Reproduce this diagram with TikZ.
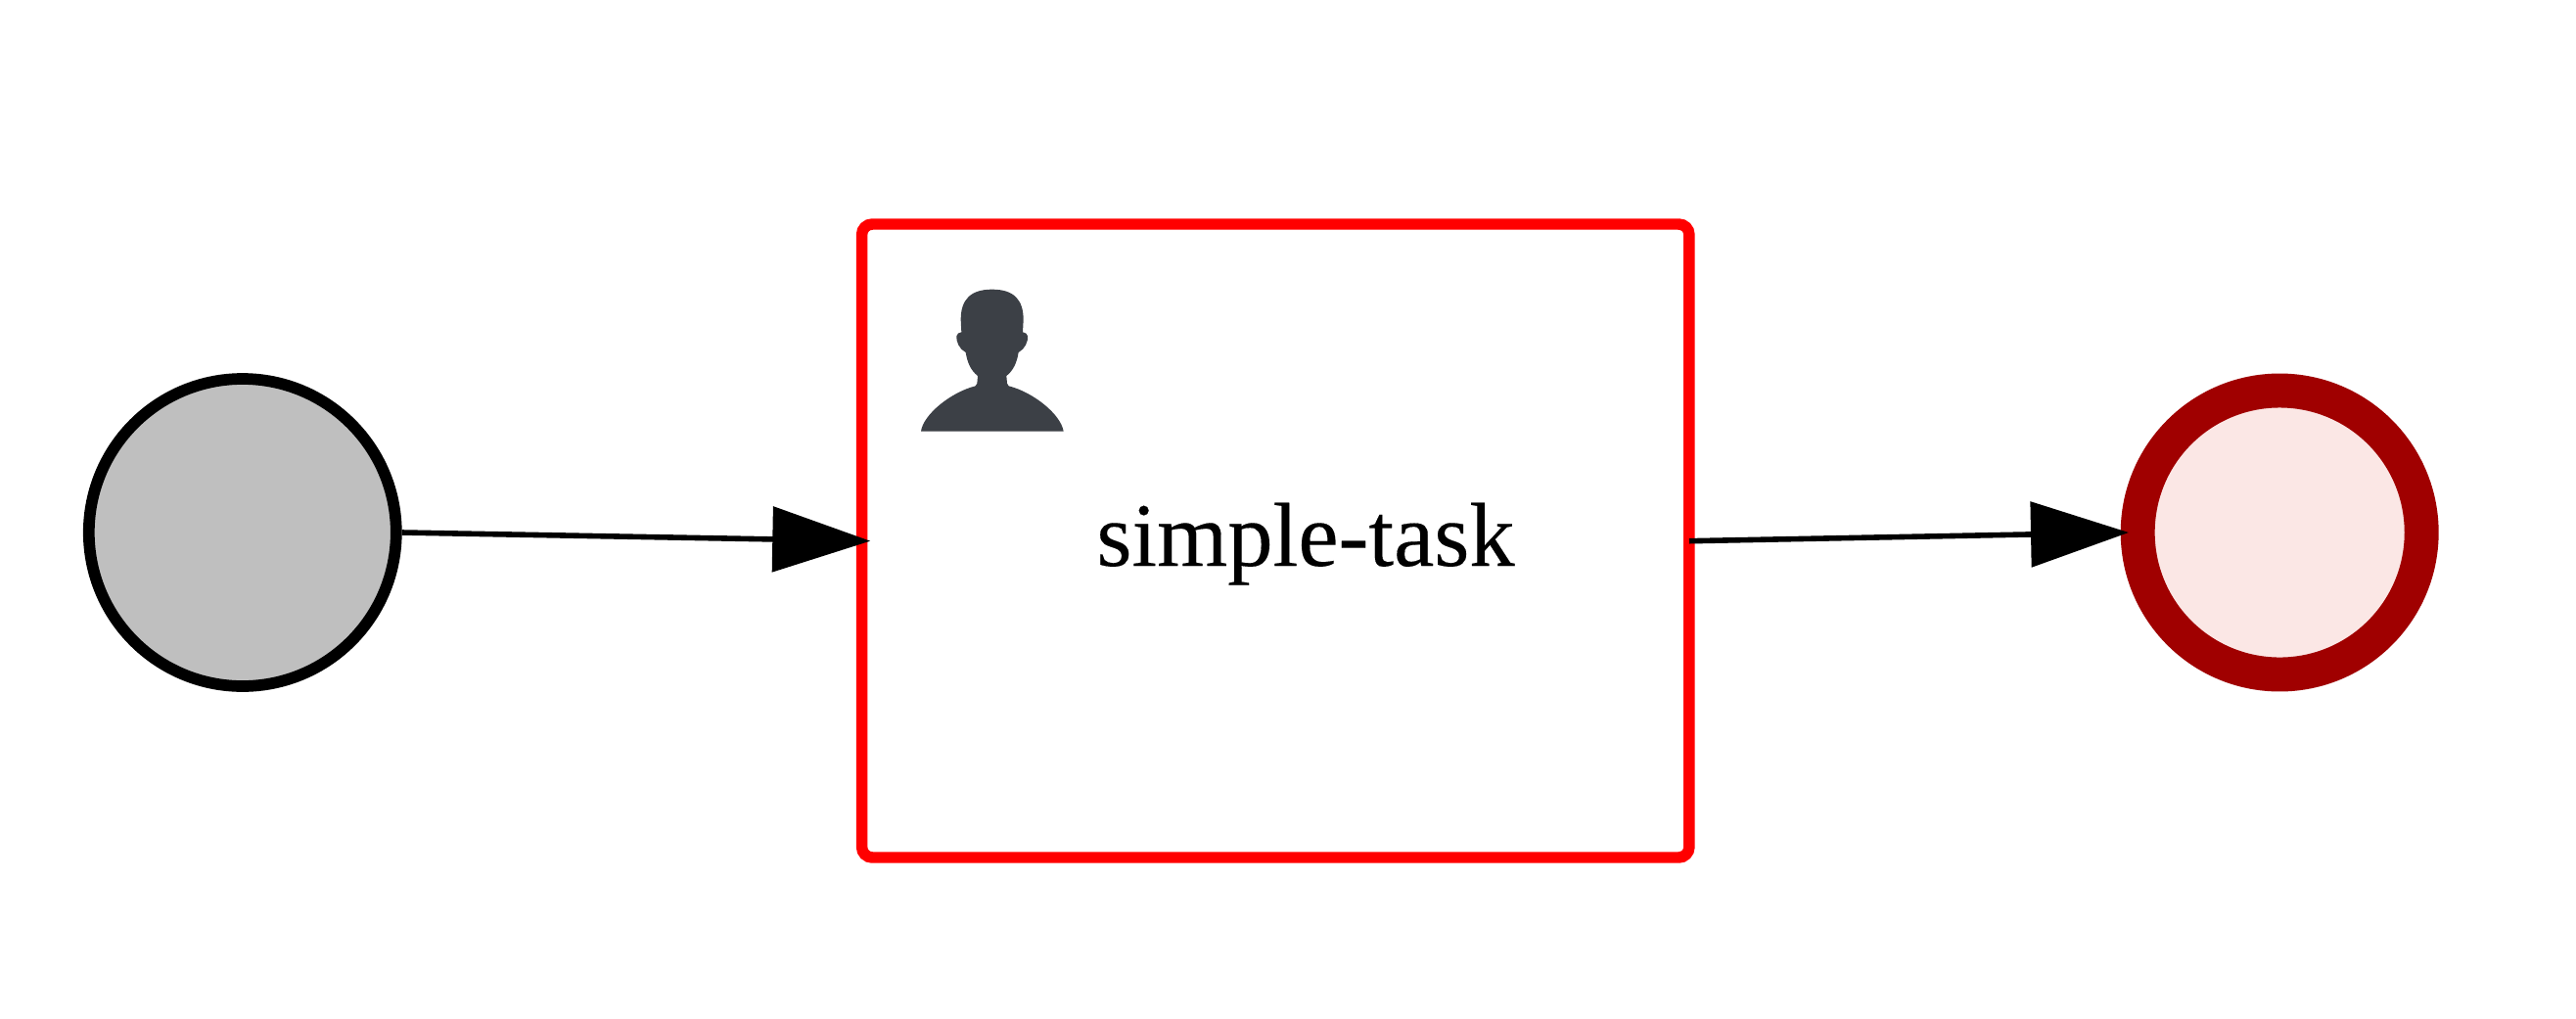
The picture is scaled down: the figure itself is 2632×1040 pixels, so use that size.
\documentclass[tikz,border=0pt]{standalone}
\usepackage{fontspec}
\setmainfont{Liberation Serif}
\newfontfamily\tasktextfont{Liberation Serif}[FakeBold=0.15]
\usetikzlibrary{arrows.meta}
\definecolor{taskred}{HTML}{FF0000}
\definecolor{endred}{HTML}{A00000}
\definecolor{endfill}{HTML}{FBE7E5}
\definecolor{startgray}{HTML}{BFBFBF}
\definecolor{iconcol}{HTML}{3C4046}
\tikzset{
  startev/.style={circle,draw=black,fill=startgray,line width=8.8pt,minimum size=235.5pt,inner sep=0pt},
  endev/.style={circle,draw=endred,fill=endfill,line width=26.2pt,minimum size=217.5pt,inner sep=0pt},
  taskbox/.style={rectangle,draw=taskred,fill=white,line width=8.6pt,rounded corners=8pt,minimum width=634pt,minimum height=485.25pt,inner sep=0pt},
  tasklabel/.style={inner sep=0pt,anchor=base,font=\tasktextfont\fontsize{69.5}{70}\selectfont},
  flow/.style={draw=black,line width=4.2pt,-{Triangle[length=75pt,width=49.5pt]}}
}
\begin{document}
\begin{tikzpicture}[x=0.75pt,y=-0.75pt]
\useasboundingbox (0,0) rectangle (2632,1040);
\fill[white] (0,0) rectangle (2632,1040);
\node[startev] (start) at (247.8,544) {};
\node[endev] (end) at (2329.2,544) {};
\node[taskbox] (task) at (1303.25,552.5) {};
\node[tasklabel] (label) at (1334,578) {simple-task};
\coordinate (taskin) at (889.3,552.7);
\coordinate (taskout) at (1726,552.7);
\coordinate (endin) at (2175,544);
\draw[flow] (start.east) -- (taskin);
\draw[flow] (taskout) -- (endin);
\begin{scope}[shift={(860,200)},x=0.25pt,y=-0.25pt]
\fill[iconcol] (243,722)
  .. controls (250,670) and (335,602) .. (410,583)
  -- (415,575) -- (417,552)
  .. controls (395,535) and (385,510) .. (380,480)
  .. controls (360,470) and (350,445) .. (352,430)
  .. controls (352,422) and (360,420) .. (367,418)
  -- (365,380)
  .. controls (365,318) and (395,287) .. (461,287)
  .. controls (527,287) and (557,318) .. (557,380)
  -- (555,418)
  .. controls (562,420) and (570,422) .. (570,430)
  .. controls (572,445) and (562,470) .. (542,480)
  .. controls (537,510) and (527,535) .. (505,552)
  -- (507,575) -- (512,583)
  .. controls (587,602) and (672,670) .. (680,722)
  -- cycle;
\end{scope}
\end{tikzpicture}
\end{document}
